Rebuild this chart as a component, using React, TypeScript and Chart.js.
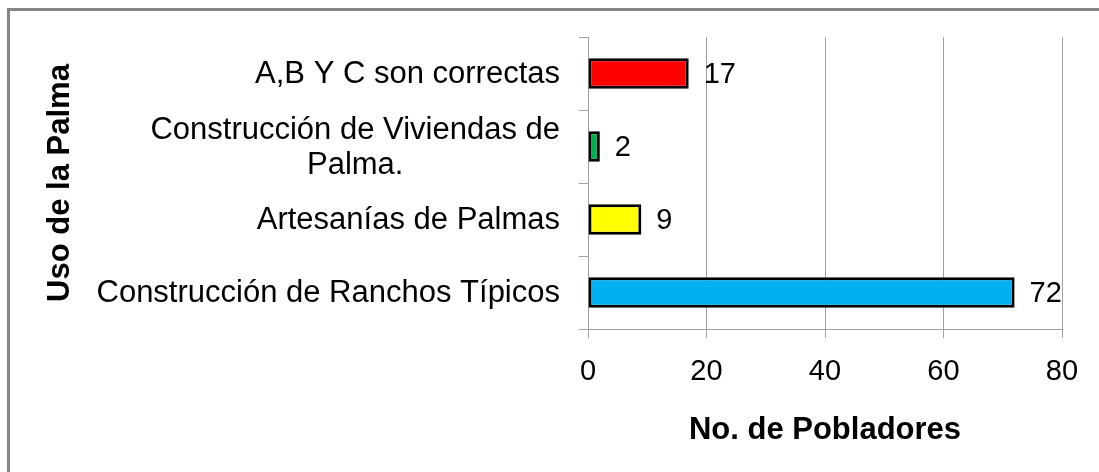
import React, { useEffect, useRef } from "react";
import { Chart, registerables } from "chart.js";

Chart.register(...registerables);

const categories: (string | string[])[] = [
  "A,B Y C son correctas",
  ["Construcción de Viviendas de", "Palma."],
  "Artesanías de Palmas",
  "Construcción de Ranchos Típicos",
];
const values: number[] = [17, 2, 9, 72];
const barColors: string[] = ["#FF0000", "#00B050", "#FFFF00", "#00B0F0"];
const xTickValues: number[] = [0, 20, 40, 60, 80];
const xTitle = "No. de Pobladores";
const yTitle = "Uso de la Palma";

const FONT = "'Liberation Sans', Arial, sans-serif";
const GRID = "#a0a0a0";

const categoryLabelPlugin = {
  id: "categoryLabels",
  afterDraw(chart: any) {
    const ctx = chart.ctx as CanvasRenderingContext2D;
    const yScale = chart.scales.y;
    const right = chart.chartArea.left - 28;
    ctx.save();
    ctx.font = `31px ${FONT}`;
    ctx.fillStyle = "#000";
    ctx.textBaseline = "middle";
    ctx.textAlign = "center";
    const lh = 35;
    categories.forEach((c, i) => {
      const lines = Array.isArray(c) ? c : [c];
      const w = Math.max(...lines.map((l) => ctx.measureText(l).width));
      const cx = right - w / 2;
      const cy = yScale.getPixelForValue(i);
      lines.forEach((l, j) => {
        ctx.fillText(l, cx, cy + (j - (lines.length - 1) / 2) * lh + 1);
      });
    });
    ctx.restore();
  },
};

const valueLabelPlugin = {
  id: "valueLabels",
  afterDatasetsDraw(chart: any) {
    const ctx = chart.ctx as CanvasRenderingContext2D;
    const meta = chart.getDatasetMeta(0);
    ctx.save();
    ctx.font = `29px ${FONT}`;
    ctx.fillStyle = "#000";
    ctx.textBaseline = "middle";
    ctx.textAlign = "left";
    meta.data.forEach((bar: any, i: number) => {
      ctx.fillText(String(values[i]), bar.x + 15, bar.y + 1);
    });
    ctx.restore();
  },
};

export default function App() {
  const canvasRef = useRef<HTMLCanvasElement | null>(null);

  useEffect(() => {
    if (!canvasRef.current) return;
    const chart = new Chart(canvasRef.current, {
      type: "bar",
      data: {
        labels: categories as any,
        datasets: [
          {
            data: values,
            backgroundColor: barColors,
            borderColor: "#000000",
            borderWidth: 3,
            borderSkipped: false,
            categoryPercentage: 1,
            barPercentage: 0.42,
          },
        ],
      },
      options: {
        indexAxis: "y",
        animation: false,
        responsive: false,
        devicePixelRatio: 1,
        layout: { padding: { top: 37, right: 37, left: 0, bottom: 0 } },
        plugins: {
          legend: { display: false },
          tooltip: { enabled: false },
        },
        scales: {
          x: {
            min: xTickValues[0],
            max: xTickValues[xTickValues.length - 1],
            afterBuildTicks: (scale: any) => {
              scale.ticks = xTickValues.map((v) => ({ value: v }));
            },
            afterFit: (scale: any) => {
              scale.height = 143;
            },
            grid: {
              color: GRID,
              lineWidth: 1,
              tickLength: 9,
              drawTicks: true,
            },
            border: { color: GRID, width: 1 },
            ticks: {
              color: "#000",
              font: { family: FONT, size: 29, lineHeight: 1.2 },
              padding: 17,
              maxRotation: 0,
            },
            title: {
              display: true,
              text: xTitle,
              color: "#000",
              font: { family: FONT, size: 31, weight: "bold", lineHeight: 1.2 },
              padding: { top: 0, bottom: 23 },
            },
          },
          y: {
            afterFit: (scale: any) => {
              scale.width = 588;
            },
            grid: {
              color: GRID,
              lineWidth: 1,
              drawOnChartArea: false,
              drawTicks: true,
              tickLength: 9,
              offset: true,
            },
            border: { color: GRID, width: 1 },
            ticks: { display: false },
            title: {
              display: true,
              text: yTitle,
              color: "#000",
              font: { family: FONT, size: 31, weight: "bold", lineHeight: 1.2 },
              padding: { top: 42, bottom: 0 },
            },
          },
        },
      },
      plugins: [categoryLabelPlugin, valueLabelPlugin],
    } as any);
    return () => chart.destroy();
  }, []);

  return (
    <div
      style={{
        position: "fixed",
        left: 0,
        top: 0,
        width: 1099,
        height: 472,
        background: "#fff",
        overflow: "hidden",
      }}
    >
      <div
        style={{
          position: "absolute",
          left: 7,
          top: 8,
          width: 1092,
          height: 464,
          borderLeft: "3px solid #868686",
          borderTop: "3px solid #868686",
          boxSizing: "border-box",
        }}
      />
      <canvas
        ref={canvasRef}
        width={1099}
        height={472}
        style={{ position: "absolute", left: 0, top: 0, width: 1099, height: 472 }}
      />
    </div>
  );
}
